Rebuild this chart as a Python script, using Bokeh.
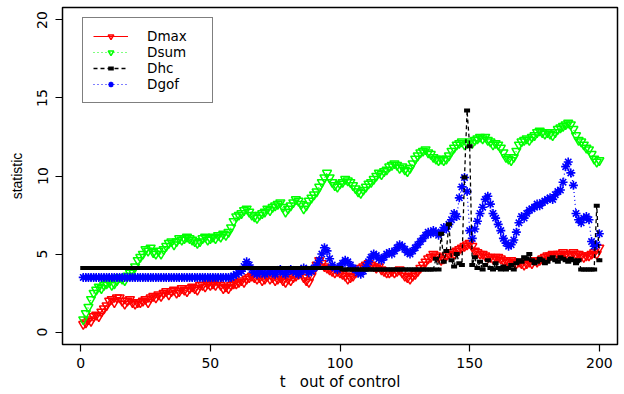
from bokeh.plotting import figure
from bokeh.models import Range1d, FixedTicker, Legend, LegendItem
from bokeh.embed import file_html
from bokeh.resources import INLINE

t = list(range(1, 201))

dmax = [0.5, 0.6, 0.8, 0.7, 1.0, 1.1, 1.0, 1.3, 1.5, 1.7,
        2.0, 2.1, 1.9, 2.2, 2.2, 2.0, 1.8, 2.0, 2.1, 1.9,
        1.8, 1.9, 1.9, 2.0, 2.1, 1.9, 2.2, 2.3, 2.2, 2.4,
        2.3, 2.5, 2.6, 2.4, 2.6, 2.7, 2.5, 2.6, 2.8, 2.7,
        2.6, 2.8, 2.9, 2.8, 2.7, 3.0, 3.0, 2.9, 3.1, 3.0,
        3.1, 3.0, 3.2, 3.0, 2.8, 2.9, 2.8, 3.0, 3.1, 3.1,
        3.2, 3.3, 3.2, 3.4, 3.5, 3.6, 3.5, 3.4, 3.5, 3.3,
        3.4, 3.6, 3.4, 3.5, 3.3, 3.4, 3.5, 3.3, 3.2, 3.4,
        3.3, 3.5, 3.6, 3.7, 3.8, 3.5, 3.3, 3.2, 3.6, 4.0,
        4.3, 4.6, 4.4, 4.2, 4.1, 4.0, 3.9, 3.8, 3.9, 3.8,
        3.7, 3.6, 3.4, 3.5, 3.6, 3.8, 3.9, 4.1, 4.2, 4.3,
        4.4, 4.3, 4.2, 4.1, 4.2, 4.0, 3.9, 3.8, 3.8, 3.9,
        3.8, 3.9, 4.0, 3.8, 3.6, 3.5, 3.4, 3.6, 3.7, 3.9,
        4.1, 4.3, 4.5, 4.7, 4.8, 5.0, 4.9, 4.8, 4.6, 4.7,
        4.9, 5.0, 5.1, 5.0, 5.2, 5.3, 5.4, 5.5, 5.6, 5.7,
        5.5, 5.2, 5.1, 5.0, 5.0, 4.9, 4.8, 4.8, 4.7, 4.8,
        4.8, 4.7, 4.6, 4.6, 4.5, 4.6, 4.5, 4.4, 4.5, 4.4,
        4.3, 4.4, 4.5, 4.4, 4.6, 4.5, 4.6, 4.7, 4.8, 4.9,
        4.9, 5.0, 4.9, 5.0, 5.0, 5.1, 5.0, 4.9, 5.0, 5.1,
        5.0, 5.0, 4.9, 4.8, 4.9, 4.9, 5.0, 5.1, 5.0, 5.4]

dsum = [0.8, 1.2, 1.6, 2.1, 2.5, 2.7, 2.9, 2.8, 3.0, 3.1,
        3.2, 3.0, 3.1, 3.3, 3.5, 3.4, 3.3, 3.6, 3.8, 3.9,
        4.2, 4.6, 4.8, 5.0, 5.3, 5.2, 5.4, 5.1, 5.0, 5.2,
        5.0, 5.3, 5.5, 5.7, 5.8, 5.6, 5.8, 6.0, 5.9, 6.0,
        6.1, 6.0, 5.9, 5.8, 5.7, 5.8, 6.0, 6.1, 5.9, 6.0,
        6.1, 6.0, 6.2, 6.1, 6.3, 6.2, 6.4, 6.7, 7.1, 7.4,
        7.5, 7.6, 7.8, 7.9, 7.7, 7.5, 7.4, 7.3, 7.5, 7.6,
        7.7, 7.9, 7.8, 8.0, 8.1, 8.2, 8.3, 8.0, 7.7, 7.9,
        8.1, 8.3, 8.5, 8.4, 8.2, 7.9, 8.1, 8.4, 8.6, 8.8,
        9.0, 9.3, 9.6, 9.9, 10.2, 9.9, 9.6, 9.4, 9.3, 9.5,
        9.6, 9.8, 9.7, 9.6, 9.4, 9.2, 9.0, 8.9, 9.1, 9.3,
        9.5, 9.6, 9.8, 10.0, 10.2, 10.1, 10.3, 10.4, 10.6, 10.7,
        10.8, 10.7, 10.5, 10.6, 10.4, 10.3, 10.5, 10.8, 11.1, 11.3,
        11.5, 11.6, 11.7, 11.5, 11.4, 11.2, 11.1, 11.0, 11.1, 11.0,
        11.1, 11.3, 11.6, 11.8, 12.0, 12.1, 12.2, 12.0, 12.1, 12.2,
        12.1, 12.3, 12.4, 12.5, 12.4, 12.5, 12.3, 12.2, 12.0, 12.1,
        12.0, 11.8, 11.5, 11.2, 11.1, 11.0, 11.2, 11.6, 12.0, 12.2,
        12.3, 12.4, 12.3, 12.5, 12.6, 12.8, 12.9, 12.8, 12.7, 12.8,
        12.7, 12.6, 12.8, 13.0, 13.1, 13.2, 13.3, 13.4, 13.3, 13.0,
        12.6, 12.3, 12.2, 12.0, 11.8, 11.7, 11.4, 11.1, 10.9, 11.0]

dhc = [4.1, 4.1, 4.1, 4.1, 4.1, 4.1, 4.1, 4.1, 4.1, 4.1,
       4.1, 4.1, 4.1, 4.1, 4.1, 4.1, 4.1, 4.1, 4.1, 4.1,
       4.1, 4.1, 4.1, 4.1, 4.1, 4.1, 4.1, 4.1, 4.1, 4.1,
       4.1, 4.1, 4.1, 4.1, 4.1, 4.1, 4.1, 4.1, 4.1, 4.1,
       4.1, 4.1, 4.1, 4.1, 4.1, 4.1, 4.1, 4.1, 4.1, 4.1,
       4.1, 4.1, 4.1, 4.1, 4.1, 4.1, 4.1, 4.1, 4.1, 4.1,
       4.1, 4.1, 4.1, 4.1, 4.1, 4.1, 4.1, 4.1, 4.1, 4.1,
       4.1, 4.1, 4.1, 4.1, 4.1, 4.1, 4.1, 4.1, 4.1, 4.1,
       4.1, 4.1, 4.1, 4.1, 4.1, 4.1, 4.1, 4.1, 4.1, 4.1,
       4.1, 4.1, 4.1, 4.1, 4.1, 4.1, 4.1, 4.1, 4.1, 4.1,
       4.0, 4.0, 4.0, 4.0, 4.0, 4.0, 4.0, 4.0, 4.0, 4.0,
       4.0, 4.0, 4.0, 4.0, 4.0, 4.0, 4.0, 4.0, 4.0, 4.0,
       4.0, 4.0, 4.0, 4.0, 4.0, 4.0, 4.0, 4.0, 4.0, 4.0,
       4.0, 4.0, 4.0, 4.0, 4.0, 4.0, 4.7, 4.0, 6.3, 4.5,
       5.2, 6.9, 4.6, 4.2, 5.0, 4.4, 4.3, 9.9, 14.2, 11.9,
       4.3, 4.8, 4.1, 4.5, 4.0, 4.3, 4.6, 4.1, 4.0, 4.4,
       4.1, 4.0, 4.2, 4.0, 4.1, 4.3, 4.0, 4.4, 4.6, 4.5,
       4.8, 4.7, 5.0, 4.6, 4.4, 4.5, 4.7, 4.6, 4.4, 4.5,
       4.7, 4.8, 4.6, 4.5, 4.8, 4.7, 4.6, 4.5, 4.7, 4.6,
       4.4, 4.6, 4.0, 4.0, 4.0, 4.0, 4.0, 4.0, 8.1, 4.6]

dgof = [3.5, 3.5, 3.5, 3.5, 3.5, 3.5, 3.5, 3.5, 3.5, 3.5,
        3.5, 3.5, 3.5, 3.5, 3.5, 3.5, 3.5, 3.5, 3.5, 3.5,
        3.5, 3.5, 3.5, 3.5, 3.5, 3.5, 3.5, 3.5, 3.5, 3.5,
        3.5, 3.5, 3.5, 3.5, 3.5, 3.5, 3.5, 3.5, 3.5, 3.5,
        3.5, 3.5, 3.5, 3.5, 3.5, 3.5, 3.5, 3.5, 3.5, 3.5,
        3.5, 3.5, 3.5, 3.5, 3.5, 3.5, 3.5, 3.5, 3.6, 3.7,
        3.8, 3.9, 4.2, 4.5, 4.3, 4.0, 3.8, 3.7, 3.9, 3.8,
        3.7, 3.8, 3.9, 3.8, 3.7, 3.9, 4.0, 3.8, 3.7, 3.9,
        4.0, 3.9, 3.8, 3.7, 3.9, 4.1, 4.0, 3.8, 3.9, 4.1,
        4.3, 4.6, 5.0, 5.4, 5.2, 4.7, 4.3, 4.1, 4.0, 4.2,
        4.4, 4.6, 4.5, 4.3, 4.1, 4.0, 3.8, 3.7, 3.9, 4.2,
        4.5, 4.8, 5.0, 4.9, 4.7, 4.6, 4.8, 5.0, 5.1, 5.0,
        5.2, 5.4, 5.6, 5.5, 5.3, 5.1, 5.0, 5.2, 5.4, 5.6,
        5.8, 6.0, 6.2, 6.4, 6.3, 6.5, 6.4, 6.2, 6.4, 6.7,
        6.6, 6.9, 7.2, 7.6, 7.4, 8.6, 9.3, 9.9, 9.0, 6.5,
        6.0, 6.6, 7.1, 7.6, 8.0, 8.5, 8.7, 8.2, 7.6, 7.3,
        6.9, 6.5, 6.0, 5.7, 5.5, 5.6, 5.9, 6.4, 7.0, 7.4,
        7.3, 7.6, 7.8, 7.9, 8.0, 8.2, 8.1, 8.3, 8.4, 8.5,
        8.6, 8.5, 8.8, 9.0, 9.1, 9.6, 10.6, 10.9, 10.2, 9.4,
        7.6, 7.2, 7.0, 7.3, 7.4, 7.2, 5.8, 5.5, 5.6, 6.3]

x_ticks = [0, 50, 100, 150, 200]
y_ticks = [0, 5, 10, 15, 20]
labels = ["Dmax", "Dsum", "Dhc", "Dgof"]

p = figure(width=624, height=394, output_backend="svg", toolbar_location=None,
           x_range=Range1d(-7, 207), y_range=Range1d(-0.8, 20.8),
           min_border_left=62, min_border_right=7, min_border_top=7, min_border_bottom=50)
p.background_fill_color = "white"
p.border_fill_color = "white"
p.outline_line_color = "black"
p.outline_line_width = 1.5
p.xgrid.visible = False
p.ygrid.visible = False

for ax in (p.xaxis[0], p.yaxis[0]):
    ax.axis_line_color = None
    ax.major_tick_out = 7
    ax.major_tick_in = 0
    ax.major_tick_line_color = "black"
    ax.major_tick_line_width = 1.2
    ax.minor_tick_line_color = None
    ax.major_label_text_font = "DejaVu Sans"
    ax.major_label_text_font_size = "14px"
    ax.major_label_text_color = "black"
    ax.axis_label_text_font = "DejaVu Sans"
    ax.axis_label_text_font_style = "normal"
    ax.axis_label_text_color = "black"

p.xaxis.ticker = FixedTicker(ticks=x_ticks)
p.yaxis.ticker = FixedTicker(ticks=y_ticks)
p.xaxis.major_label_standoff = 6
p.yaxis.major_label_standoff = 8
p.yaxis.major_label_orientation = "vertical"
p.xaxis.axis_label = "t\u00a0\u00a0\u00a0out of control"
p.xaxis.axis_label_text_font_size = "15px"
p.xaxis.axis_label_standoff = 2
p.yaxis.axis_label = "statistic"
p.yaxis.axis_label_text_font = "Liberation Sans"
p.yaxis.axis_label_text_font_size = "14px"
p.yaxis.axis_label_standoff = 10

red, green, black, blue = "#FF0000", "#00FF00", "#000000", "#0000FF"

l1 = p.line(t, dmax, line_color=red, line_width=1.2)
s1 = p.scatter(t, dmax, marker="inverted_triangle", size=9, line_color=red, fill_color=None, line_width=1.5)
l2 = p.line(t, dsum, line_color=green, line_width=1.2, line_dash="1 3")
s2 = p.scatter(t, dsum, marker="inverted_triangle", size=9, line_color=green, fill_color=None, line_width=1.5)
l4 = p.line(t, dgof, line_color=blue, line_width=1.2, line_dash="1 3")
s4 = p.scatter(t, dgof, marker="asterisk", size=9, line_color=blue, line_width=1.6)
l3 = p.line(t, dhc, line_color=black, line_width=1.3, line_dash="4 3")
s3 = p.scatter(t, dhc, marker="dash", size=6, line_color=black, line_width=4)

legend = Legend(items=[LegendItem(label=labels[0], renderers=[l1, s1]),
                       LegendItem(label=labels[1], renderers=[l2, s2]),
                       LegendItem(label=labels[2], renderers=[l3, s3]),
                       LegendItem(label=labels[3], renderers=[l4, s4])],
                location=(20, 241), border_line_color="black", border_line_width=1.2,
                padding=10, spacing=0, margin=0,
                glyph_width=35, glyph_height=14, label_height=14, label_width=55,
                label_standoff=19, label_text_font="DejaVu Sans",
                label_text_font_size="13.5px", label_text_color="black",
                background_fill_color="white", background_fill_alpha=1.0)
p.add_layout(legend)

open("out.html", "w").write(file_html(p, INLINE))
